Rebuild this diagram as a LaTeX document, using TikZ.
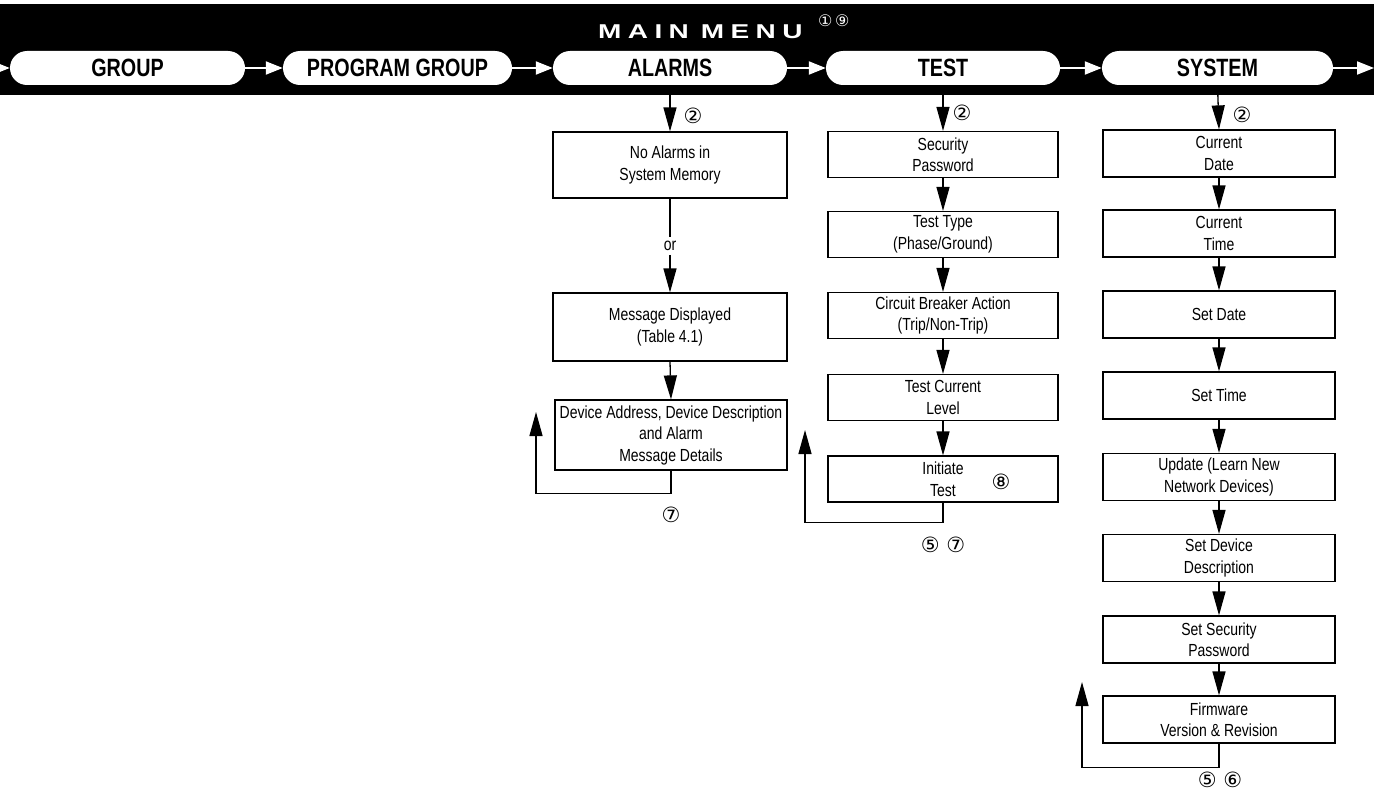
\documentclass[tikz,border=0pt]{standalone}
\usepackage{fontspec}
\setmainfont{Liberation Sans}
\newfontfamily\condf[FakeStretch=0.8]{Liberation Sans}
\newfontfamily\pillf[FakeStretch=0.79]{Liberation Sans}
\newfontfamily\titlef[FakeStretch=1.4,LetterSpace=32]{Liberation Sans}
\newfontfamily\circf{DejaVu Sans}
\usetikzlibrary{arrows.meta}
\begin{document}
\begin{tikzpicture}[x=1pt,y=-1pt,
  box/.style={draw, line width=1.2pt, minimum width=232pt, minimum height=47pt, inner sep=0pt, align=center, font=\condf\fontsize{17.5}{21.5}\selectfont},
  pill/.style={fill=white, rounded corners=17pt, minimum width=233pt, minimum height=34pt, inner sep=0pt, font=\pillf\bfseries\fontsize{25}{25}\selectfont},
  warr/.style={draw=white, color=white, line width=2pt, -{Triangle[width=13pt,length=17pt]}},
  barr/.style={line width=1.3pt, -{Triangle[width=13pt,length=24pt]}},
  ln/.style={line width=1.3pt},
  num/.style={font=\circf\fontsize{21}{21}\selectfont, inner sep=0pt},
  title/.style={font=\titlef\bfseries\fontsize{20}{20}\selectfont, text=white, inner sep=0pt}
]
\useasboundingbox (0,0) rectangle (1379,800);
% band
\fill[black] (0,4) rectangle (1374,95);
\node[title, anchor=base west] (mm) at (598,39) {MAIN\hspace{12pt}MENU};
\node[num, text=white, font=\circf\fontsize{16}{16}\selectfont, anchor=west] (mmn) at (818,21) {①\,⑨};
% pills
\node[pill, minimum width=235pt] (g) at (127.5,68) {GROUP};
\node[pill, minimum width=229pt] (pg) at (397.5,68) {PROGRAM GROUP};
\node[pill, minimum width=234pt] (al) at (670,68) {ALARMS};
\node[pill, minimum width=234pt] (te) at (943,68) {TEST};
\node[pill, minimum width=231pt] (sy) at (1217.5,68) {SYSTEM};
\coordinate (lin) at (-30,68);
\coordinate (rout) at (1374,68);
\draw[warr] (lin) -- (g.west);
\draw[warr] (g.east) -- (pg.west);
\draw[warr] (pg.east) -- (al.west);
\draw[warr] (al.east) -- (te.west);
\draw[warr] (te.east) -- (sy.west);
\draw[warr] (sy.east) -- (rout);
% ALARMS column
\node[box, minimum width=234pt, minimum height=66pt] (a1) at (670,165) {No Alarms in\\System Memory};
\node (or) at (670,246) [font=\condf\fontsize{17.5}{21}\selectfont, inner sep=4pt] {or};
\node[box, minimum width=234pt, minimum height=68pt] (a2) at (670,327) {Message Displayed\\(Table 4.1)};
\node[box, minimum width=232pt, minimum height=70pt] (a3) at (671,435) {Device Address, Device Description\\and Alarm\\Message Details};
\draw[barr] (al.south) -- (a1.north);
\draw[ln] (a1.south) -- (or.north);
\draw[barr] (or.south) -- (a2.north);
\draw[barr] (a2.south) -- (a3.north);
\coordinate (aret) at (536,412);
\draw[barr] (a3.south) -- ++(0,23) -| (aret);
\node[num] (n2a) at (693,116) {②};
\node[num] (n7a) at (671,515) {⑦};
% TEST column
\node[box, minimum width=230pt, minimum height=46pt] (t1) at (943,154.5) {Security\\Password};
\node[box, minimum width=230pt, minimum height=46pt] (t2) at (943,234.5) {Test Type\\(Phase/Ground)};
\node[box, minimum width=230pt, minimum height=46pt] (t3) at (943,315.5) {Circuit Breaker Action\\(Trip/Non-Trip)};
\node[box, minimum width=230pt, minimum height=46pt] (t4) at (943,397.5) {Test Current\\Level};
\node[box, minimum width=230pt, minimum height=46pt] (t5) at (943,479) {Initiate\\Test};
\node[num] (n8) at (1001,482) {⑧};
\draw[barr] (te.south) -- (t1.north);
\draw[barr] (t1.south) -- (t2.north);
\draw[barr] (t2.south) -- (t3.north);
\draw[barr] (t3.south) -- (t4.north);
\draw[barr] (t4.south) -- (t5.north);
\coordinate (tret) at (805,430);
\draw[barr] (t5.south) -- ++(0,20) -| (tret);
\node[num] (n2t) at (962,113) {②};
\node[num] (n57t) at (943,545) {⑤\ ⑦};
% SYSTEM column
\node[box] (s1) at (1219,153.5) {Current\\Date};
\node[box] (s2) at (1219,233.5) {Current\\Time};
\node[box] (s3) at (1219,314.5) {Set Date};
\node[box] (s4) at (1219,395.5) {Set Time};
\node[box] (s5) at (1219,477) {Update (Learn New\\Network Devices)};
\node[box] (s6) at (1219,558) {Set Device\\Description};
\node[box] (s7) at (1219,639.5) {Set Security\\Password};
\node[box] (s8) at (1219,719.5) {Firmware\\Version \& Revision};
\draw[barr] (sy.south) -- (s1.north);
\draw[barr] (s1.south) -- (s2.north);
\draw[barr] (s2.south) -- (s3.north);
\draw[barr] (s3.south) -- (s4.north);
\draw[barr] (s4.south) -- (s5.north);
\draw[barr] (s5.south) -- (s6.north);
\draw[barr] (s6.south) -- (s7.north);
\draw[barr] (s7.south) -- (s8.north);
\coordinate (sret) at (1082,682);
\draw[barr] (s8.south) -- ++(0,24) -| (sret);
\node[num] (n2s) at (1242,115) {②};
\node[num] (n56s) at (1220,780) {⑤\ ⑥};
\end{tikzpicture}
\end{document}
